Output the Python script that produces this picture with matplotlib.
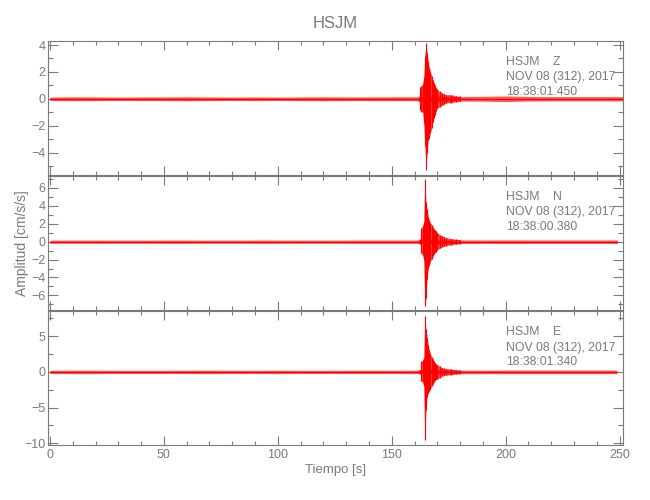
import numpy as np
import matplotlib
matplotlib.use('Agg')
import matplotlib.pyplot as plt
from matplotlib.ticker import MultipleLocator

plt.rcParams['font.family'] = ['Liberation Sans', 'DejaVu Sans']

# datos
station = 'HSJM'
comps = ['Z', 'N', 'E']
fecha = 'NOV 08 (312), 2017'
t_inicio = ['18:38:01.450', '18:38:00.380', '18:38:01.340']
t_fin = [251.4, 249.0, 248.7]

# nivel de ruido (amplitud +/-) cada 10 s
noise_t = [0, 10, 20, 30, 40, 50, 60, 70, 80, 90, 100, 110, 120,
           130, 140, 150, 160, 170, 180, 190, 200, 210, 220, 230, 240]
noise_z = [0.13, 0.15, 0.14, 0.13, 0.14, 0.14, 0.15, 0.14, 0.13, 0.14, 0.13, 0.14, 0.15,
           0.14, 0.14, 0.15, 0.15, 0.18, 0.17, 0.18, 0.21, 0.17, 0.16, 0.16, 0.16]
noise_n = [0.17, 0.17, 0.18, 0.17, 0.17, 0.18, 0.18, 0.17, 0.17, 0.18, 0.18, 0.17, 0.17,
           0.18, 0.18, 0.18, 0.18, 0.22, 0.20, 0.19, 0.20, 0.19, 0.19, 0.19, 0.19]
noise_e = [0.22, 0.24, 0.24, 0.22, 0.22, 0.22, 0.23, 0.24, 0.23, 0.22, 0.24, 0.22, 0.22,
           0.23, 0.23, 0.23, 0.24, 0.28, 0.25, 0.24, 0.25, 0.25, 0.25, 0.25, 0.25]

# envolvente del evento (s, cm/s/s)
ev_t = [162.0, 162.5, 163.0, 163.5, 164.0, 164.5, 165.0, 165.5, 166.0, 166.5, 167.0, 167.5,
        168.0, 168.5, 169.0, 169.5, 170.0, 171.0, 172.0, 173.0, 174.0, 176.0, 178.0, 180.0]
up_z = [0.15, 0.9, 0.95, 1.1, 1.6, 3.2, 4.15, 3.4, 2.8, 2.3, 2.0, 1.7,
        1.4, 1.2, 1.0, 0.8, 0.7, 0.55, 0.45, 0.35, 0.3, 0.3, 0.22, 0.18]
lo_z = [-0.15, -0.8, -0.95, -1.0, -1.8, -3.5, -5.3, -4.0, -3.1, -2.9, -2.5, -2.2,
        -1.7, -1.4, -1.2, -0.9, -0.7, -0.6, -0.5, -0.4, -0.3, -0.3, -0.22, -0.18]
up_n = [0.2, 0.25, 1.5, 1.8, 2.2, 7.0, 4.4, 3.6, 2.8, 2.4, 2.1, 1.9,
        1.6, 1.4, 1.25, 1.2, 1.0, 0.8, 0.65, 0.55, 0.45, 0.35, 0.28, 0.22]
lo_n = [-0.2, -0.25, -1.3, -1.5, -2.0, -7.2, -6.3, -4.2, -3.0, -2.6, -2.2, -1.9,
        -1.6, -1.4, -1.2, -1.1, -0.9, -0.75, -0.6, -0.5, -0.45, -0.35, -0.28, -0.22]
up_e = [0.2, 0.25, 1.5, 1.6, 2.0, 7.8, 6.0, 4.8, 3.8, 3.0, 2.5, 2.1,
        1.8, 1.5, 1.3, 1.1, 1.0, 0.8, 0.6, 0.5, 0.45, 0.4, 0.3, 0.25]
lo_e = [-0.2, -0.25, -1.3, -1.45, -2.0, -9.6, -5.4, -3.5, -3.0, -2.7, -2.35, -2.0,
        -1.7, -1.45, -1.2, -1.05, -1.0, -0.8, -0.6, -0.5, -0.45, -0.4, -0.3, -0.25]

noises = [noise_z, noise_n, noise_e]
ups = [up_z, up_n, up_e]
los = [lo_z, lo_n, lo_e]
ylims = [(-5.67, 4.32), (-7.63, 7.37), (-10.24, 8.57)]
ymajor = [2, 2, 5]
yminor = [1, 1, 2.5]

gris = '#7a7a7a'
fig = plt.figure(figsize=(6.5, 5), dpi=100)
bottoms = [0.65, 0.38, 0.11]
axs = []
for i in range(3):
    ax = fig.add_axes([0.0734, bottoms[i], 0.8851, 0.2686])
    axs.append(ax)
    # ruido de fondo
    xs = noise_t + [t_fin[i]]
    amp = np.array(noises[i] + [noises[i][-1]])
    ax.fill_between(xs, -amp, amp, color='#ff3030', alpha=0.8, lw=0)
    ax.plot([0, t_fin[i]], [0, 0], color='red', lw=0.9)
    # evento
    ax.fill_between(ev_t, los[i], ups[i], color='red', alpha=0.75, lw=0)
    ax.vlines(ev_t, los[i], ups[i], color='red', lw=0.8)

    ax.set_xlim(-1, 251.5)
    ax.set_ylim(*ylims[i])
    ax.xaxis.set_major_locator(MultipleLocator(50))
    ax.xaxis.set_minor_locator(MultipleLocator(10))
    ax.yaxis.set_major_locator(MultipleLocator(ymajor[i]))
    ax.yaxis.set_minor_locator(MultipleLocator(yminor[i]))
    ax.tick_params(which='both', direction='in', top=True, right=True,
                   color=gris, labelcolor=gris, labelsize=9, width=0.8)
    ax.tick_params(axis='x', which='major', length=6.5, pad=3)
    ax.tick_params(axis='x', which='minor', length=3.2)
    ax.tick_params(axis='y', which='major', length=7.5, pad=1.5)
    ax.tick_params(axis='y', which='minor', length=3.7)
    for s in ax.spines.values():
        s.set_color(gris)
        s.set_linewidth(0.8)
    if i < 2:
        ax.tick_params(axis='x', labelbottom=False)

    ax.text(0.797, 1 - 24.5 / 134.3, station + '    ' + comps[i], transform=ax.transAxes,
            color=gris, fontsize=8.8, va='baseline')
    ax.text(0.797, 1 - 39.8 / 134.3, fecha, transform=ax.transAxes,
            color=gris, fontsize=8.8, va='baseline')
    ax.text(0.797, 1 - 54.5 / 134.3, t_inicio[i], transform=ax.transAxes,
            color=gris, fontsize=8.8, va='baseline')

axs[0].set_title(station, color=gris, fontsize=12, pad=9)
axs[1].set_ylabel('Amplitud [cm/s/s]', color=gris, fontsize=10)
axs[1].yaxis.set_label_coords(-0.032, 0.5)
axs[2].set_xlabel('Tiempo [s]', color=gris, fontsize=9.5, labelpad=2)

fig.savefig('out.png', dpi=100)
